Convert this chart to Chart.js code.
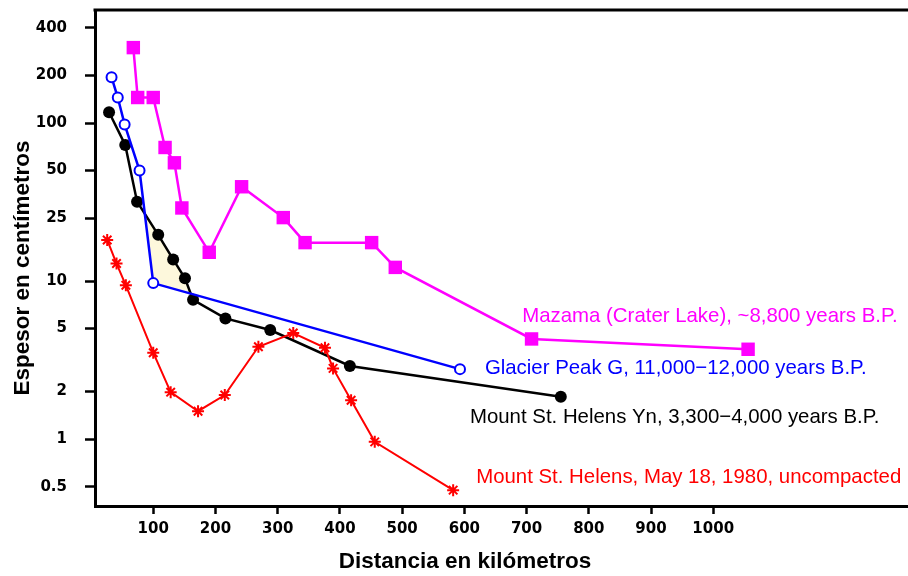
<!DOCTYPE html>
<html>
<head>
<meta charset="utf-8">
<script src="https://cdn.jsdelivr.net/npm/chart.js@4.4.1/dist/chart.umd.min.js"></script>
<style>
  body { margin: 0; background: #fff; }
  canvas { display: block; }
</style>
</head>
<body>
<canvas id="chart" width="908" height="576"></canvas>
<script>
'use strict';

/* DATA (distance in km, thickness in cm) */
const mazamaKm = [68, 75, 100, 119, 134, 146, 190, 242, 309, 344, 451, 489, 708, 1056];
const mazamaCm = [300, 145, 145, 70, 56, 29, 15.2, 39.5, 25.2, 17.5, 17.5, 12.2, 4.3, 3.7];

const glacierKm = [33, 43, 54, 78, 100, 593];
const glacierCm = [195, 145, 98, 50, 9.7, 2.77];

const helensYnKm = [29, 55, 74, 108, 132, 151, 164, 216, 288, 416, 755];
const helensYnCm = [117, 72.6, 31.8, 19.6, 13.7, 10.4, 7.6, 5.8, 4.9, 2.9, 1.85];

const helens1980Km = [26, 41, 56, 100, 128, 172, 215, 269, 325, 376, 389, 418, 456, 582];
const helens1980Cm = [18.2, 12.9, 9.4, 3.52, 1.98, 1.5, 1.9, 3.84, 4.69, 3.78, 2.8, 1.76, 0.96, 0.475];

const distanceTicks = [100, 200, 300, 400, 500, 600, 700, 800, 900, 1000];
const thicknessTicks = [0.5, 1, 2, 5, 10, 25, 50, 100, 200, 400];

const seriesNames = [
  'Mount St. Helens, May 18, 1980, uncompacted',
  'Mazama (Crater Lake), ~8,800 years B.P.',
  'Glacier Peak G, 11,000\u221212,000 years B.P.',
  'Mount St. Helens Yn, 3,300\u22124,000 years B.P.'
];
const seriesColors = ['#ff0000', '#ff00ff', '#0000ff', '#000000'];

/* where each series name is written (km, cm) */
const labelAnchors = [
  { km: 619, cm: 0.575 },
  { km: 693, cm: 6.0 },
  { km: 633, cm: 2.81 },
  { km: 609, cm: 1.38 }
];

function toPoints(xs, ys) {
  return xs.map((x, i) => ({ x: x, y: ys[i] }));
}

/* PLUGIN: top frame line, axis titles and series names */
const decorations = {
  id: 'decorations',
  afterDraw(chart) {
    const ctx = chart.ctx;
    const area = chart.chartArea;
    const xs = chart.scales.x;
    const ys = chart.scales.y;

    ctx.save();
    ctx.strokeStyle = '#000';
    ctx.lineWidth = 3;
    ctx.beginPath();
    ctx.moveTo(area.left - 1.5, area.top);
    ctx.lineTo(area.right, area.top);
    ctx.stroke();

    // axis titles
    ctx.fillStyle = '#000';
    ctx.font = 'bold 22.5px "Liberation Sans", Arial, sans-serif';
    ctx.textAlign = 'center';
    ctx.textBaseline = 'middle';
    ctx.fillText('Distancia en kil\u00f3metros', 465, 562);
    ctx.save();
    ctx.translate(23, 268);
    ctx.rotate(-Math.PI / 2);
    ctx.fillText('Espesor en cent\u00edmetros', 0, 0);
    ctx.restore();

    // series names
    ctx.font = '20.4px "Liberation Sans", Arial, sans-serif';
    ctx.textAlign = 'left';
    labelAnchors.forEach((a, i) => {
      ctx.fillStyle = seriesColors[i];
      ctx.fillText(seriesNames[i], xs.getPixelForValue(a.km), ys.getPixelForValue(a.cm));
    });
    ctx.restore();
  }
};

const tickFont = { family: '"DejaVu Sans", sans-serif', size: 15, weight: 'bold' };

new Chart(document.getElementById('chart'), {
  type: 'line',
  data: {
    datasets: [
      {
        label: seriesNames[0],
        data: toPoints(helens1980Km, helens1980Cm),
        borderColor: seriesColors[0],
        backgroundColor: seriesColors[0],
        borderWidth: 2,
        pointStyle: 'star',
        pointRadius: 6,
        pointBorderWidth: 2,
        pointBorderColor: seriesColors[0],
        fill: false
      },
      {
        label: seriesNames[1],
        data: toPoints(mazamaKm, mazamaCm),
        borderColor: seriesColors[1],
        backgroundColor: seriesColors[1],
        borderWidth: 2.5,
        pointStyle: 'rect',
        pointRadius: 9.5,
        pointBorderWidth: 0,
        fill: false
      },
      {
        label: seriesNames[2],
        data: toPoints(glacierKm, glacierCm),
        borderColor: seriesColors[2],
        backgroundColor: '#ffffff',
        borderWidth: 2.5,
        pointStyle: 'circle',
        pointRadius: 5,
        pointBorderWidth: 2,
        pointBackgroundColor: '#ffffff',
        pointBorderColor: seriesColors[2],
        fill: false
      },
      {
        label: seriesNames[3],
        data: toPoints(helensYnKm, helensYnCm),
        borderColor: seriesColors[3],
        backgroundColor: seriesColors[3],
        borderWidth: 2.5,
        pointStyle: 'circle',
        pointRadius: 6,
        pointBorderWidth: 0,
        fill: { target: 2, above: '#fdf8dc', below: 'rgba(0,0,0,0)' }
      }
    ]
  },
  options: {
    responsive: false,
    animation: false,
    events: [],
    layout: { autoPadding: false, padding: { top: 10, right: 0, left: 0, bottom: 0 } },
    elements: { line: { tension: 0 } },
    plugins: {
      legend: { display: false },
      tooltip: { enabled: false }
    },
    scales: {
      x: {
        type: 'linear',
        min: 6.4,
        max: 1313,
        afterFit: s => { s.height = 70; s.paddingLeft = 0; s.paddingRight = 0; },
        afterBuildTicks: s => { s.ticks = distanceTicks.map(v => ({ value: v })); },
        grid: { drawOnChartArea: false, tickLength: 8, tickWidth: 2.5, tickColor: '#000' },
        border: { display: true, color: '#000', width: 3 },
        ticks: {
          color: '#000',
          font: tickFont,
          padding: 6,
          maxRotation: 0,
          autoSkip: false,
          callback: v => String(v)
        }
      },
      y: {
        type: 'logarithmic',
        min: 0.377,
        max: 519,
        afterFit: s => { s.width = 95; s.paddingTop = 0; s.paddingBottom = 0; },
        afterBuildTicks: s => { s.ticks = thicknessTicks.map(v => ({ value: v })); },
        grid: { drawOnChartArea: false, tickLength: 10, tickWidth: 2.5, tickColor: '#000' },
        border: { display: true, color: '#000', width: 3 },
        ticks: {
          color: '#000',
          font: tickFont,
          padding: 18,
          autoSkip: false,
          callback: v => String(v)
        }
      }
    }
  },
  plugins: [decorations]
});
</script>
</body>
</html>
